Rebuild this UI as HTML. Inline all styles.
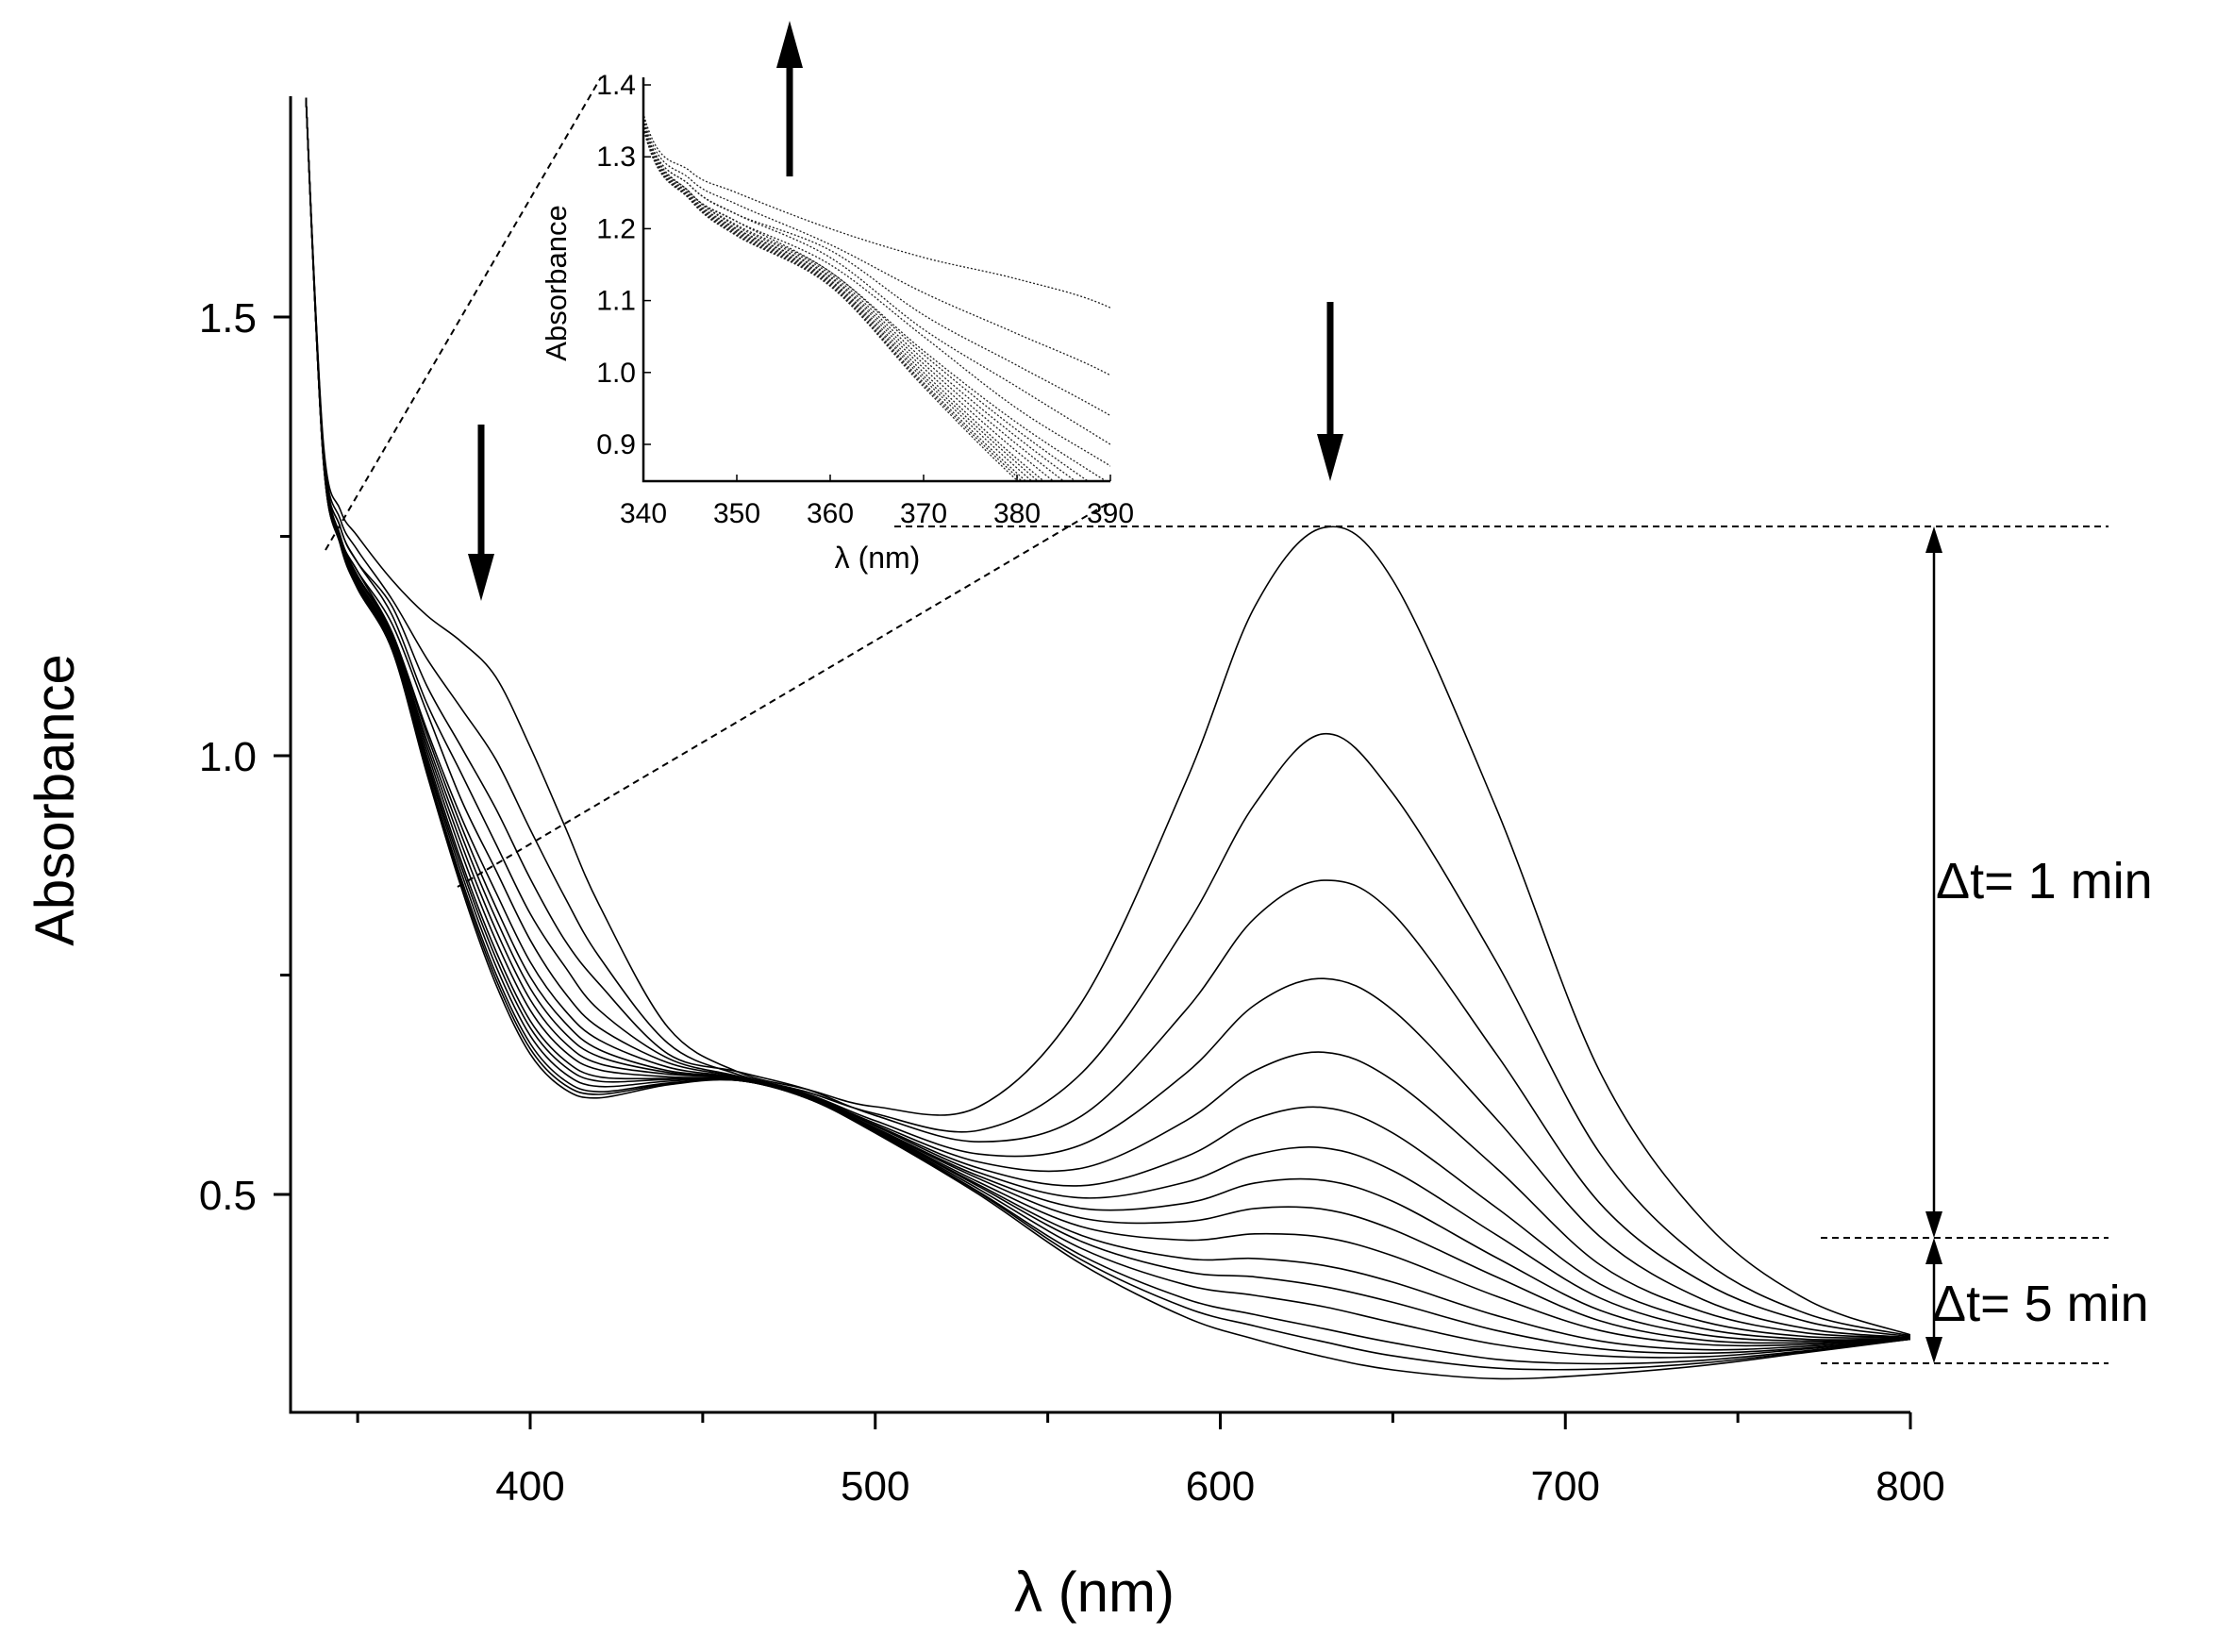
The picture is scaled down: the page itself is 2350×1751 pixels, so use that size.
<!DOCTYPE html>
<html><head><meta charset="utf-8"><style>
body{margin:0;background:#fff;}
svg{display:block;font-family:"Liberation Sans",sans-serif;}
</style></head><body>
<svg id="chart" width="2350" height="1751" viewBox="0 0 2350 1751">
<defs>
<clipPath id="mainClip"><rect x="308" y="102" width="1717" height="1395"/></clipPath>
<clipPath id="insetClip"><rect x="682" y="82" width="495" height="428"/></clipPath>
</defs>
<g id="main-curves" clip-path="url(#mainClip)"></g>
<g id="inset-curves" clip-path="url(#insetClip)"></g>
<g id="axes"></g>
<g id="annot"></g>
</svg>
<script>
const wavelengths=[335,340,345,350,360,370,380,390,400,410,420,440,460,480,500,530,560,590,610,630,650,680,710,740,770,800];
const s01=[1.75,1.36,1.28,1.25,1.20,1.16,1.13,1.09,1.01,0.92,0.83,0.69,0.64,0.62,0.60,0.60,0.72,0.97,1.17,1.26,1.20,0.94,0.64,0.47,0.38,0.34];
const s02=[1.75,1.355,1.269,1.234,1.178,1.111,1.054,0.996,0.916,0.839,0.771,0.672,0.637,0.617,0.592,0.573,0.639,0.805,0.945,1.025,0.957,0.765,0.547,0.425,0.364,0.339];
const s03=[1.75,1.35,1.26,1.22,1.17,1.08,1.01,0.94,0.86,0.79,0.74,0.66,0.64,0.62,0.59,0.56,0.59,0.71,0.815,0.858,0.82,0.66,0.49,0.40,0.355,0.338];
const s04=[1.75,1.35,1.26,1.22,1.16,1.06,0.98,0.90,0.82,0.76,0.71,0.655,0.635,0.615,0.584,0.546,0.557,0.638,0.716,0.746,0.71,0.586,0.452,0.38,0.347,0.337];
const s05=[1.75,1.35,1.25,1.21,1.15,1.05,0.95,0.87,0.79,0.73,0.69,0.65,0.634,0.614,0.581,0.537,0.53,0.584,0.641,0.662,0.63,0.53,0.42,0.366,0.342,0.337];
const s06=[1.75,1.35,1.25,1.21,1.14,1.03,0.93,0.845,0.765,0.71,0.676,0.645,0.633,0.613,0.579,0.53,0.51,0.543,0.586,0.599,0.57,0.485,0.398,0.355,0.338,0.337];
const s07=[1.75,1.345,1.25,1.205,1.14,1.025,0.92,0.828,0.748,0.696,0.665,0.641,0.633,0.613,0.578,0.525,0.496,0.514,0.545,0.553,0.527,0.454,0.382,0.347,0.335,0.336];
const s08=[1.75,1.345,1.25,1.203,1.137,1.018,0.91,0.815,0.735,0.684,0.657,0.639,0.632,0.612,0.576,0.521,0.484,0.49,0.513,0.516,0.492,0.428,0.368,0.34,0.333,0.336];
const s09=[1.75,1.344,1.247,1.2,1.134,1.012,0.90,0.802,0.722,0.673,0.649,0.637,0.632,0.612,0.575,0.518,0.473,0.469,0.484,0.483,0.46,0.406,0.356,0.334,0.331,0.336];
const s10=[1.75,1.343,1.246,1.199,1.132,1.006,0.89,0.79,0.71,0.663,0.642,0.634,0.631,0.611,0.574,0.514,0.463,0.448,0.455,0.451,0.43,0.384,0.345,0.329,0.329,0.336];
const s11=[1.75,1.342,1.244,1.197,1.129,1.0,0.88,0.778,0.698,0.653,0.634,0.632,0.631,0.611,0.573,0.511,0.453,0.427,0.427,0.419,0.40,0.362,0.333,0.323,0.327,0.335];
const s12=[1.75,1.342,1.243,1.195,1.127,0.995,0.874,0.77,0.69,0.646,0.629,0.631,0.631,0.611,0.573,0.509,0.446,0.412,0.406,0.395,0.377,0.345,0.324,0.319,0.325,0.335];
const s13=[1.75,1.341,1.242,1.194,1.125,0.991,0.867,0.761,0.681,0.638,0.623,0.629,0.631,0.611,0.572,0.506,0.438,0.397,0.385,0.372,0.354,0.329,0.316,0.315,0.324,0.335];
const s14=[1.75,1.341,1.241,1.192,1.123,0.986,0.86,0.752,0.672,0.63,0.617,0.627,0.63,0.61,0.571,0.503,0.43,0.381,0.363,0.347,0.331,0.312,0.307,0.311,0.322,0.335];
const s15=[1.75,1.34,1.241,1.191,1.121,0.983,0.855,0.746,0.666,0.625,0.614,0.626,0.63,0.61,0.571,0.502,0.425,0.371,0.35,0.332,0.316,0.302,0.301,0.308,0.321,0.335];
const s16=[1.75,1.34,1.24,1.19,1.12,0.98,0.85,0.74,0.66,0.62,0.61,0.625,0.63,0.61,0.57,0.50,0.42,0.36,0.335,0.315,0.30,0.29,0.295,0.305,0.32,0.335];
const allSeries=[s01,s02,s03,s04,s05,s06,s07,s08,s09,s10,s11,s12,s13,s14,s15,s16];
const xTicks=[400,500,600,700,800];
const xMinor=[350,450,550,650,750];
const yTicks=[0.5,1.0,1.5];
const yMinor=[0.75,1.25];
const insetXTicks=[340,350,360,370,380,390];
const insetYTicks=[0.9,1.0,1.1,1.2,1.3,1.4];

const NS='http://www.w3.org/2000/svg';
const X=v=>562+(v-400)*3.6575;
const Y=v=>801-(v-1.0)*930;
const IX=v=>682+(v-340)*9.9;
const IY=v=>471-(v-0.9)*762;
function el(tag,attrs,parent,text){const e=document.createElementNS(NS,tag);for(const k in attrs)e.setAttribute(k,attrs[k]);if(text!==undefined)e.textContent=text;parent.appendChild(e);return e;}
function pathFrom(pts){let d='M'+pts[0][0].toFixed(1)+','+pts[0][1].toFixed(1);
 for(let i=0;i<pts.length-1;i++){const p0=pts[i-1]||pts[i],p1=pts[i],p2=pts[i+1],p3=pts[i+2]||p2;
  const c1=[p1[0]+(p2[0]-p0[0])/6,p1[1]+(p2[1]-p0[1])/6],c2=[p2[0]-(p3[0]-p1[0])/6,p2[1]-(p3[1]-p1[1])/6];
  d+='C'+c1[0].toFixed(1)+','+c1[1].toFixed(1)+' '+c2[0].toFixed(1)+','+c2[1].toFixed(1)+' '+p2[0].toFixed(1)+','+p2[1].toFixed(1);}
 return d;}
const mg=document.getElementById('main-curves');
const ig=document.getElementById('inset-curves');
allSeries.forEach((s,i)=>{
 const p=el('path',{d:pathFrom(wavelengths.map((w,j)=>[X(w),Y(s[j])])),fill:'none',stroke:'#000','stroke-width':1.6},mg);
 
 
 const q=el('path',{d:pathFrom(wavelengths.map((w,j)=>[IX(w),IY(s[j])])),fill:'none',stroke:'#222','stroke-width':1.3,'stroke-dasharray':'2,2'},ig);
 
 
});
const ax=document.getElementById('axes');
el('path',{d:'M308,102V1497H2025',fill:'none',stroke:'#000','stroke-width':3},ax);
xTicks.forEach(t=>{el('line',{x1:X(t),x2:X(t),y1:1497,y2:1515,stroke:'#000','stroke-width':3},ax);
 const tx=el('text',{x:X(t),y:1590,'font-size':44,'text-anchor':'middle'},ax,String(t));
 
 });
xMinor.forEach(t=>el('line',{x1:X(t),x2:X(t),y1:1497,y2:1508,stroke:'#000','stroke-width':3},ax));
yTicks.forEach(t=>{el('line',{x1:290,x2:308,y1:Y(t),y2:Y(t),stroke:'#000','stroke-width':3},ax);
 const tx=el('text',{x:272,y:Y(t)+16,'font-size':44,'text-anchor':'end'},ax,t.toFixed(1));
 
 });
yMinor.forEach(t=>el('line',{x1:297,x2:308,y1:Y(t),y2:Y(t),stroke:'#000','stroke-width':3},ax));
el('text',{x:1160,y:1708,'font-size':60,'text-anchor':'middle',},ax,'λ (nm)');
el('text',{x:0,y:0,'font-size':58,'text-anchor':'middle',transform:'translate(78,848) rotate(-90)',},ax,'Absorbance');
el('path',{d:'M682,82V510H1177',fill:'none',stroke:'#000','stroke-width':2.5},ax);
insetXTicks.forEach(t=>{el('line',{x1:IX(t),x2:IX(t),y1:510,y2:503,stroke:'#000','stroke-width':1.5},ax);
 const tx=el('text',{x:IX(t),y:554,'font-size':30,'text-anchor':'middle'},ax,String(t));
 
 });
insetYTicks.forEach(t=>{el('line',{x1:682,x2:690,y1:IY(t),y2:IY(t),stroke:'#000','stroke-width':1.5},ax);
 const tx=el('text',{x:674,y:IY(t)+10,'font-size':30,'text-anchor':'end'},ax,t.toFixed(1));
 
 });
el('text',{x:930,y:602,'font-size':32,'text-anchor':'middle',},ax,'λ (nm)');
el('text',{x:0,y:0,'font-size':31,'text-anchor':'middle',transform:'translate(600,300) rotate(-90)',},ax,'Absorbance');
const an=document.getElementById('annot');
const dash={stroke:'#000','stroke-width':2,'stroke-dasharray':'7,5',fill:'none'};
el('line',Object.assign({x1:345,y1:583,x2:637,y2:82},dash),an);
el('line',Object.assign({x1:485,y1:940,x2:1177,y2:532},dash),an);
el('line',Object.assign({x1:948,y1:558,x2:2235,y2:558},dash),an);
el('line',Object.assign({x1:1930,y1:1312,x2:2235,y2:1312},dash),an);
el('line',Object.assign({x1:1930,y1:1445,x2:2235,y2:1445},dash),an);
function arrow(x,y1,y2,w,hw,hl){const dir=y2>y1?1:-1;
 el('line',{x1:x,y1:y1,x2:x,y2:y2-dir*hl,stroke:'#000','stroke-width':w},an);
 el('path',{d:`M${x-hw},${y2-dir*hl}L${x+hw},${y2-dir*hl}L${x},${y2}Z`,fill:'#000'},an);}
arrow(837,187,22,7,14,50);
arrow(510,450,637,7,14,50);
arrow(1410,320,510,7,14,50);
arrow(2050,935,558,2.5,9,28);
arrow(2050,935,1312,2.5,9,28);
arrow(2050,1380,1312,2.5,9,28);
arrow(2050,1380,1445,2.5,9,28);
el('text',{x:2052,y:952,'font-size':54,},an,'Δt= 1 min');
el('text',{x:2048,y:1400,'font-size':54,},an,'Δt= 5 min');
</script>
</body></html>
